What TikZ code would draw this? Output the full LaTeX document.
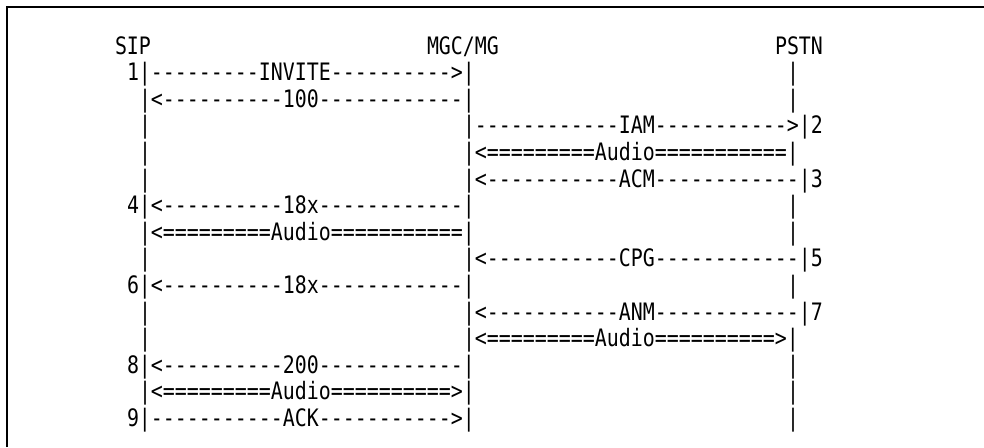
\documentclass[tikz,border=0pt]{standalone}
\usepackage{fontspec}
\setmonofont[FakeStretch=0.83]{DejaVu Sans Mono}
\newcommand\seg[4]{\node[txt] (#1) at ({139+12*(#2)},{54+26.6*(#3)}) {#4};}
\begin{document}
\begin{tikzpicture}[x=0.75pt,y=-0.75pt,
  txt/.style={inner sep=0pt,outer sep=0pt,anchor=base west,font=\ttfamily\fontsize{18pt}{20pt}\selectfont,text=black},
  frame/.style={line width=1.5pt,draw=black}]
\useasboundingbox (0,0) rectangle (984,447);
\coordinate (fbl) at (7,447);
\coordinate (ftl) at (7,7);
\coordinate (ftr) at (984,7);
\draw[frame] (fbl) -- (ftl) -- (ftr);
% row 0
\seg{sip}{-2}{0}{SIP}
\seg{mgc}{24}{0}{MGC/MG}
\seg{pstn}{53}{0}{PSTN}
% row 1
\seg{r1a}{-1}{1}{1|---------INVITE---------->|}
\seg{r1b}{54}{1}{|}
% row 2
\seg{r2a}{0}{2}{|<----------100------------|}
\seg{r2b}{54}{2}{|}
% row 3
\seg{r3a}{0}{3}{|}
\seg{r3b}{27}{3}{|------------IAM----------->|2}
% row 4
\seg{r4a}{0}{4}{|}
\seg{r4b}{27}{4}{|<=========Audio===========|}
% row 5
\seg{r5a}{0}{5}{|}
\seg{r5b}{27}{5}{|<-----------ACM------------|3}
% row 6
\seg{r6a}{-1}{6}{4|<----------18x------------|}
\seg{r6b}{54}{6}{|}
% row 7
\seg{r7a}{0}{7}{|<=========Audio===========|}
\seg{r7b}{54}{7}{|}
% row 8
\seg{r8a}{0}{8}{|}
\seg{r8b}{27}{8}{|<-----------CPG------------|5}
% row 9
\seg{r9a}{-1}{9}{6|<----------18x------------|}
\seg{r9b}{54}{9}{|}
% row 10
\seg{r10a}{0}{10}{|}
\seg{r10b}{27}{10}{|<-----------ANM------------|7}
% row 11
\seg{r11a}{0}{11}{|}
\seg{r11b}{27}{11}{|<=========Audio==========>|}
% row 12
\seg{r12a}{-1}{12}{8|<----------200------------|}
\seg{r12b}{54}{12}{|}
% row 13
\seg{r13a}{0}{13}{|<=========Audio==========>|}
\seg{r13b}{54}{13}{|}
% row 14
\seg{r14a}{-1}{14}{9|-----------ACK----------->|}
\seg{r14b}{54}{14}{|}
\end{tikzpicture}
\end{document}
